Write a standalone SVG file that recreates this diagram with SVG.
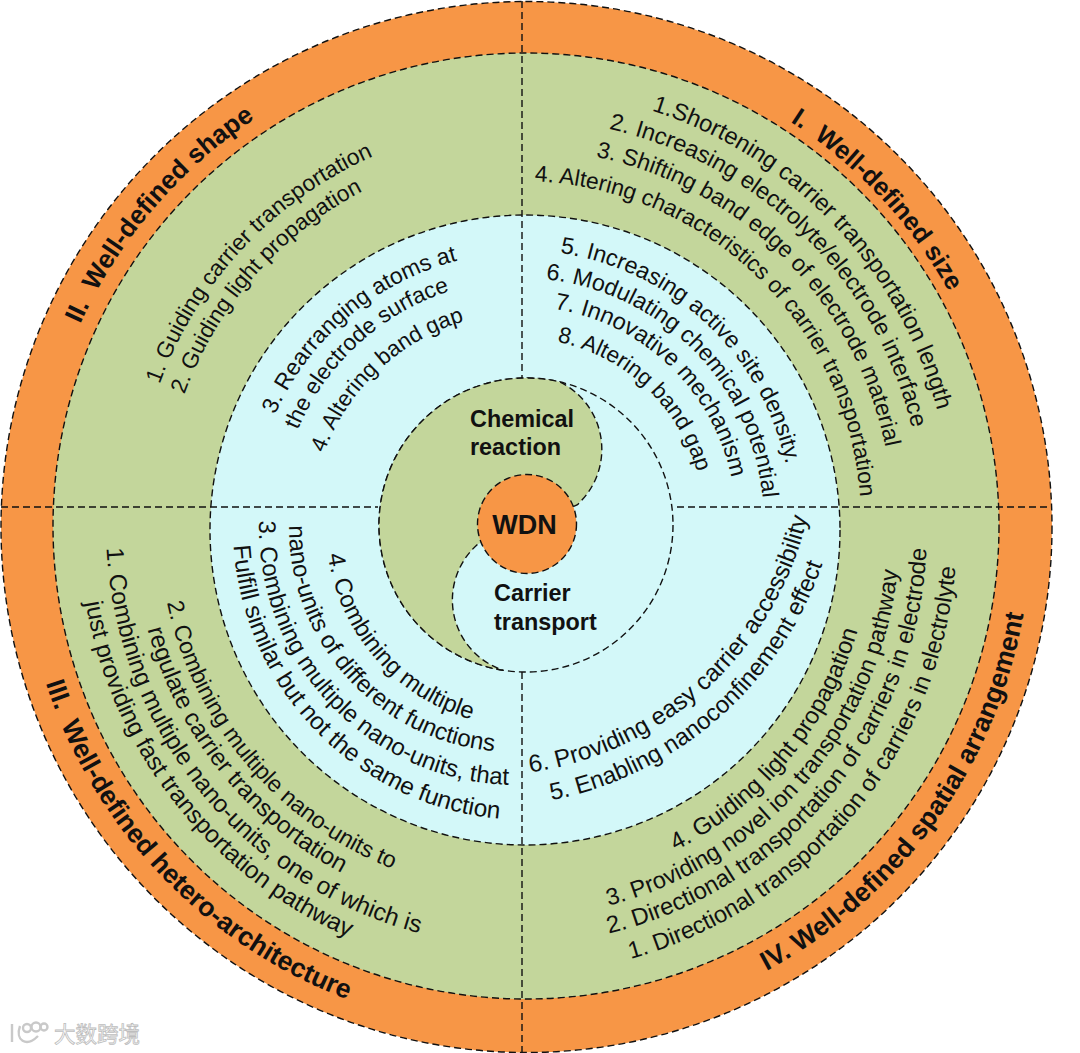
<svg xmlns="http://www.w3.org/2000/svg" width="1080" height="1053" viewBox="0 0 1080 1053">
<style>
.d{stroke:#111;stroke-width:1.4;stroke-dasharray:7 4;}
.t{font-family:"Liberation Sans",Arial,sans-serif;font-size:24.4px;fill:#111;}
.b{font-family:"Liberation Sans",Arial,sans-serif;font-size:26.6px;font-weight:bold;fill:#111;white-space:pre;}
.c{font-family:"Liberation Sans",Arial,sans-serif;font-size:23.4px;font-weight:bold;fill:#111;}
</style>
<defs>
<path id="u490" d="M526,1017A490,490 0 0 1 526,37A490,490 0 0 1 526,1017"/>
<path id="u484" d="M526,1011A484,484 0 0 1 526,43A484,484 0 0 1 526,1011"/>
<path id="u432" d="M526,959A432,432 0 0 1 526,95A432,432 0 0 1 526,959"/>
<path id="u403" d="M526,930A403,403 0 0 1 526,124A403,403 0 0 1 526,930"/>
<path id="u373" d="M526,900A373,373 0 0 1 526,154A373,373 0 0 1 526,900"/>
<path id="u341" d="M526,868A341,341 0 0 1 526,186A341,341 0 0 1 526,868"/>
<path id="u272" d="M526,799A272,272 0 0 1 526,255A272,272 0 0 1 526,799"/>
<path id="u244" d="M526,771A244,244 0 0 1 526,283A244,244 0 0 1 526,771"/>
<path id="u216" d="M526,743A216,216 0 0 1 526,311A216,216 0 0 1 526,743"/>
<path id="u184" d="M526,711A184,184 0 0 1 526,343A184,184 0 0 1 526,711"/>
<path id="v400" d="M535,922A400,400 0 0 1 535,122A400,400 0 0 1 535,922"/>
<path id="v373" d="M535,895A373,373 0 0 1 535,149A373,373 0 0 1 535,895"/>
<path id="u275" d="M526,802A275,275 0 0 1 526,252A275,275 0 0 1 526,802"/>
<path id="u248" d="M526,775A248,248 0 0 1 526,279A248,248 0 0 1 526,775"/>
<path id="u215" d="M526,742A215,215 0 0 1 526,312A215,215 0 0 1 526,742"/>
<path id="l505" d="M526,22A505,505 0 0 0 526,1032A505,505 0 0 0 526,22"/>
<path id="l420" d="M526,107A420,420 0 0 0 526,947A420,420 0 0 0 526,107"/>
<path id="l447" d="M526,80A447,447 0 0 0 526,974A447,447 0 0 0 526,80"/>
<path id="l367" d="M526,160A367,367 0 0 0 526,894A367,367 0 0 0 526,160"/>
<path id="l392" d="M526,135A392,392 0 0 0 526,919A392,392 0 0 0 526,135"/>
<path id="l200" d="M526,327A200,200 0 0 0 526,727A200,200 0 0 0 526,327"/>
<path id="l225" d="M514,302A225,225 0 0 0 514,752A225,225 0 0 0 514,302"/>
<path id="l258" d="M517,269A258,258 0 0 0 517,785A258,258 0 0 0 517,269"/>
<path id="l293" d="M526,234A293,293 0 0 0 526,820A293,293 0 0 0 526,234"/>
<path id="w445" d="M512,85A445,445 0 0 0 512,975A445,445 0 0 0 512,85"/>
<path id="w415" d="M512,115A415,415 0 0 0 512,945A415,415 0 0 0 512,115"/>
<path id="w388" d="M512,142A388,388 0 0 0 512,918A388,388 0 0 0 512,142"/>
<path id="w360" d="M512,170A360,360 0 0 0 512,890A360,360 0 0 0 512,170"/>
<path id="x360" d="M482,87A360,360 0 0 0 482,807A360,360 0 0 0 482,87"/>
<path id="x334" d="M482,108A334,334 0 0 0 482,776A334,334 0 0 0 482,108"/>
</defs>

<g id="rings">
<circle id="ring-orange" class="d" cx="526.5" cy="527" r="525.5" fill="#F79646"/>
<circle id="ring-green" class="d" cx="526" cy="526" r="473" fill="#C3D69B"/>
<circle id="ring-blue" class="d" cx="525" cy="530" r="315" fill="#D3F8F9"/>
</g>

<g id="connectors" fill="none">
<path class="d" d="M522,1V378M522,672V1052M1,507H378M677,507H1052"/>
</g>

<g id="yin-yang">
<circle id="carrier-circle" class="d" cx="526" cy="525" r="147" fill="none"/>
<path id="chemical-shape" class="d" fill="#C3D69B" d="M503,670.2A147,147 0 0 1 379,525A147,147 0 0 1 560,382A75,75 0 0 1 577,505L478,544A74,74 0 0 0 503,670.2Z"/>
</g>

<g id="node-wdn">
<circle class="d" cx="527" cy="524" r="49.5" fill="#F79646"/>
<text x="524.5" y="534" text-anchor="middle" style="font-family:'Liberation Sans',Arial,sans-serif;font-size:27px;font-weight:bold;fill:#111">WDN</text>
</g>
<g id="node-chemical">
<text class="c" x="470" y="427">Chemical</text>
<text class="c" x="470" y="455">reaction</text>
</g>
<g id="node-carrier">
<text class="c" x="494" y="601">Carrier</text>
<text class="c" x="494" y="630">transport</text>
</g>

<g id="node-I">
<text class="b" style="font-size:25.5px"><textPath href="#u484" startOffset="59.2%">I.  Well-defined size</textPath></text>
<g transform="translate(-6,-5)">
<text class="t" style="font-size:23.75px"><textPath href="#u432" startOffset="54.92%">1.Shortening carrier transportation length</textPath></text>
<text class="t" style="font-size:23.5px"><textPath href="#u403" startOffset="53.54%">2. Increasing electrolyte/electrode interface</textPath></text>
<text class="t" style="font-size:23.1px"><textPath href="#u373" startOffset="53.26%">3. Shifting band edge of electrode material</textPath></text>
<text class="t" style="font-size:22.8px"><textPath href="#u341" startOffset="50.68%">4. Altering characteristics of carrier transportation</textPath></text>
<text class="t" style="font-size:23.3px"><textPath href="#u272" startOffset="52.35%">5. Increasing active site density.</textPath></text>
<text class="t" style="font-size:23.3px"><textPath href="#u244" startOffset="51.69%">6. Modulating chemical potential</textPath></text>
<text class="t" style="font-size:23.5px"><textPath href="#u216" startOffset="52.54%">7. Innovative mechanism</textPath></text>
<text class="t" style="font-size:22.6px"><textPath href="#u184" startOffset="53.22%">8. Altering band gap</textPath></text>
</g>
</g>
<g id="node-II">
<text class="b" style="font-size:26px"><textPath href="#u490" startOffset="31.8%">II.  Well-defined shape</textPath></text>
<text class="t" style="font-size:22.8px"><textPath href="#v400" startOffset="30.6%">1. Guiding carrier transportation</textPath></text>
<text class="t" style="font-size:22.6px"><textPath href="#v373" startOffset="30.55%">2. Guiding light propagation</textPath></text>
<text class="t" style="font-size:23px"><textPath href="#u275" startOffset="31.7%">3. Rearranging atoms at</textPath></text>
<text class="t" style="font-size:22.7px"><textPath href="#u248" startOffset="31.4%">the electrode surface</textPath></text>
<text class="t" style="font-size:22.4px"><textPath href="#u215" startOffset="30.6%">4. Altering band gap</textPath></text>
</g>
<g id="node-III">
<text class="b"><textPath href="#l505" startOffset="30%">III.  Well-defined hetero-architecture</textPath></text>
<text class="t"><textPath href="#l420" startOffset="25.8%">1. Combining multiple nano-units, one of which is</textPath></text>
<text class="t"><textPath href="#l447" startOffset="27.7%">just providing fast transportation pathway</textPath></text>
<text class="t" style="font-size:23.2px"><textPath href="#l367" startOffset="28.3%">2. Combining multiple nano-units to</textPath></text>
<text class="t"><textPath href="#l392" startOffset="29.2%">regulate carrier transportation</textPath></text>
<text class="t" style="font-size:24px"><textPath href="#l200" startOffset="27.2%">4. Combining multiple</textPath></text>
<text class="t" style="font-size:24px"><textPath href="#l225" startOffset="24.9%">nano-units of different functions</textPath></text>
<text class="t" style="font-size:24px"><textPath href="#l258" startOffset="24.6%">3. Combining multiple nano-units, that</textPath></text>
<text class="t"><textPath href="#l293" startOffset="26%">Fulfill similar but not the same function</textPath></text>
</g>
<g id="node-IV">
<text class="b"><textPath href="#l505" startOffset="57.9%">IV. Well-defined spatial arrangement</textPath></text>
<text class="t" style="font-size:23.7px"><textPath href="#w445" startOffset="54.3%">1. Directional transportation of carriers in electrolyte</textPath></text>
<text class="t" style="font-size:23.9px"><textPath href="#w415" startOffset="53.75%">2. Directional transportation of carriers in electrode</textPath></text>
<text class="t" style="font-size:23.6px"><textPath href="#w388" startOffset="54%">3. Providing novel ion transportation pathway</textPath></text>
<text class="t" style="font-size:24px"><textPath href="#w360" startOffset="57.5%">4. Guiding light propagation</textPath></text>
<text class="t" style="font-size:24px"><textPath href="#x360" startOffset="53.1%">5. Enabling nanoconfinement effect</textPath></text>
<text class="t"><textPath href="#x334" startOffset="52.3%">6. Providing easy carrier accessibility</textPath></text>
</g>

<g id="watermark" fill="none" stroke="#c9c9c9" stroke-width="2.4">
<path d="M12,1024V1042M20,1026C15,1040 26,1048 38,1036"/>
<circle cx="27" cy="1028" r="4"/><circle cx="36" cy="1027" r="4.5"/><circle cx="44" cy="1027" r="3.5"/>
<text x="54" y="1042" font-family="'Liberation Sans','Noto Sans CJK SC',sans-serif" font-size="21.5" fill="#fff" stroke="#bdbdbd" stroke-width="0.8">大数跨境</text>
</g>
</svg>
